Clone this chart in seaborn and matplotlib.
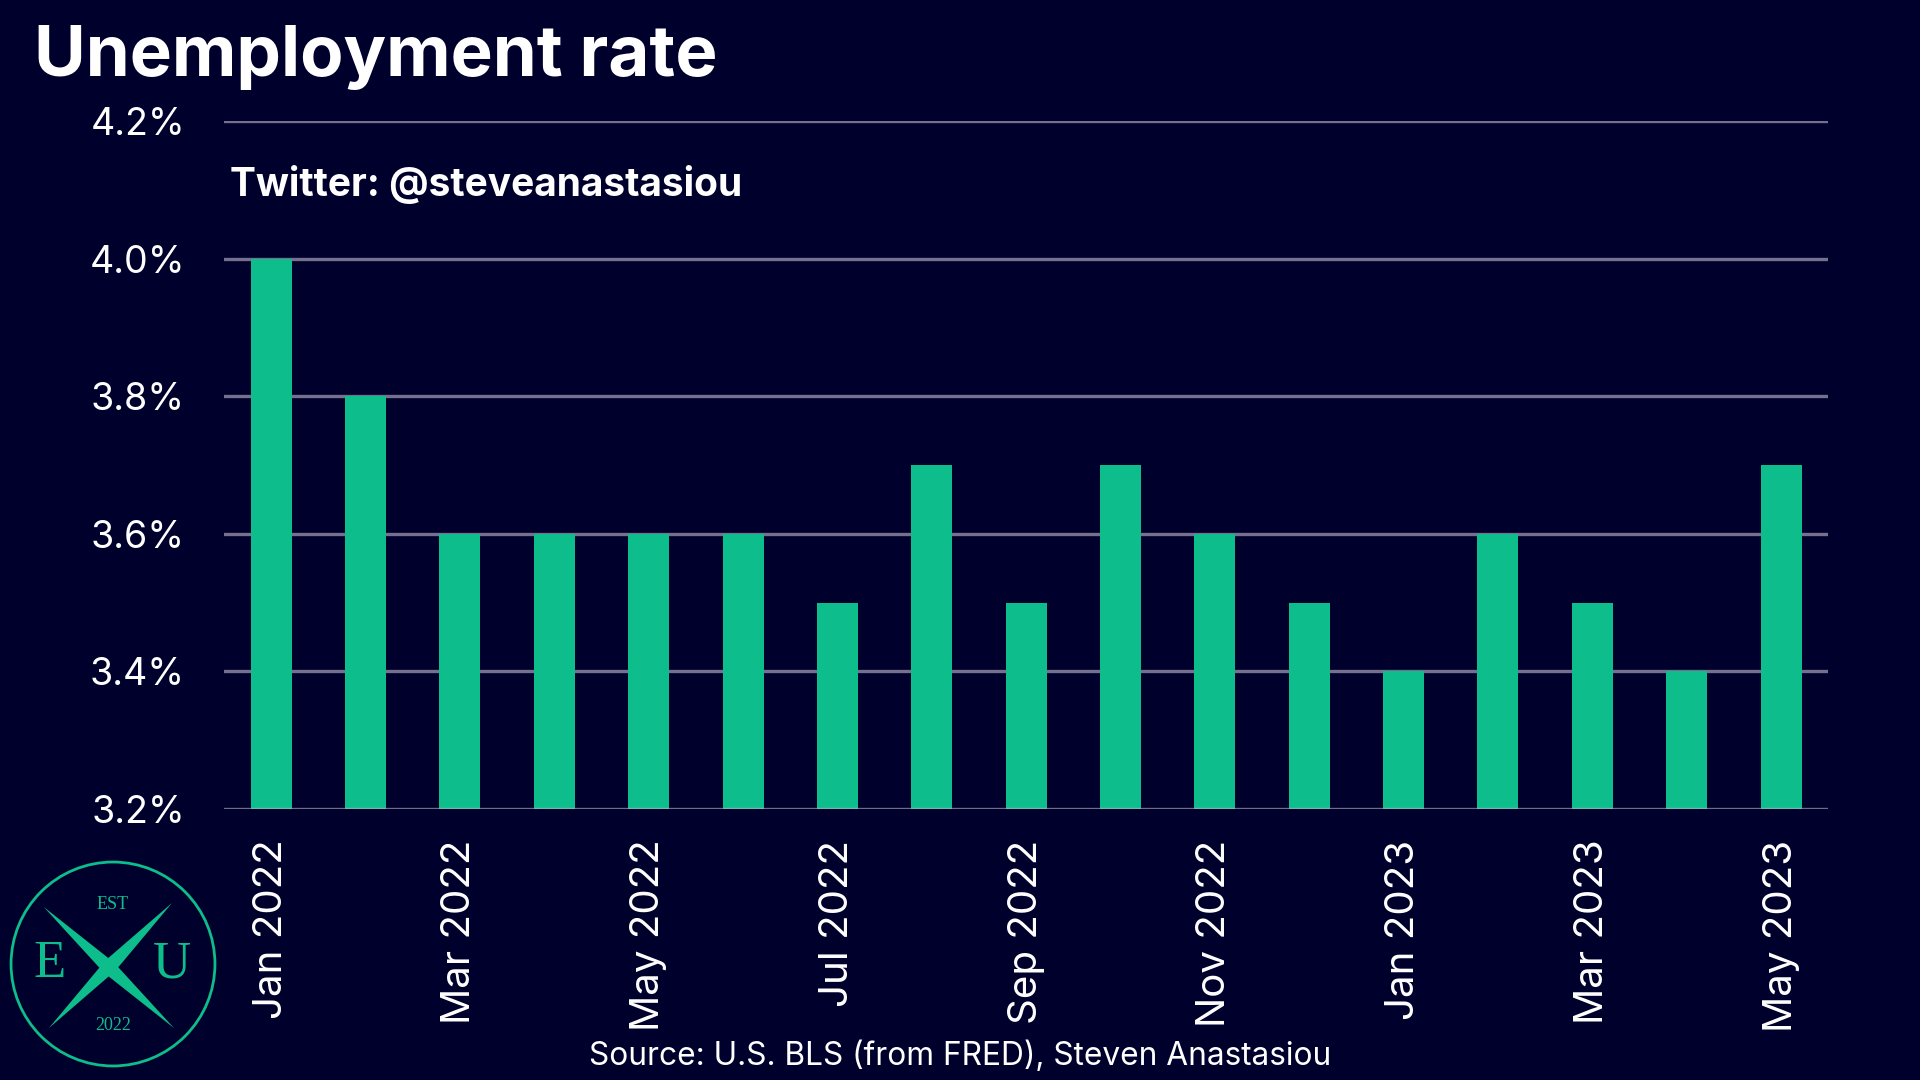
import pandas as pd
import matplotlib.pyplot as plt
import seaborn as sns
import numpy as np
from matplotlib.patches import Circle, Polygon

# data
months = ['Jan 2022', 'Feb 2022', 'Mar 2022', 'Apr 2022', 'May 2022', 'Jun 2022',
          'Jul 2022', 'Aug 2022', 'Sep 2022', 'Oct 2022', 'Nov 2022', 'Dec 2022',
          'Jan 2023', 'Feb 2023', 'Mar 2023', 'Apr 2023', 'May 2023']
rate = [4.0, 3.8, 3.6, 3.6, 3.6, 3.6, 3.5, 3.7, 3.5, 3.7, 3.6, 3.5, 3.4, 3.6, 3.5, 3.4, 3.7]
y_ticks = [3.2, 3.4, 3.6, 3.8, 4.0, 4.2]

bg = '#00002c'
green = '#0dbd8b'
grid_col = '#76708e'

df = pd.DataFrame({'Month': months, 'Rate': rate})

sns.set_style('dark')
plt.rcParams['font.family'] = ['Inter', 'DejaVu Sans']

fig = plt.figure(figsize=(19.2, 10.8), dpi=100, facecolor=bg)
ax = fig.add_axes([0.1167, 0.2509, 0.8355, 0.637])
ax.set_facecolor(bg)

sns.barplot(data=df, x='Month', y='Rate', color=green, width=0.435, saturation=1,
            edgecolor='none', linewidth=0, ax=ax, zorder=2)

ax.set_ylim(3.2, 4.2)
ax.set_xlim(-0.5, len(months) - 0.5)
ax.set_yticks(y_ticks)
ax.set_yticklabels([f'{v:.1f}%' for v in y_ticks], color='white', fontsize=27)
ax.set_xticks(range(0, len(months), 2))
ax.set_xticklabels(months[::2], rotation=90, color='white', fontsize=29)
ax.tick_params(axis='y', length=0, pad=28)
ax.tick_params(axis='x', length=0, pad=22)
ax.set_xlabel('')
ax.set_ylabel('')
for s in ax.spines.values():
    s.set_visible(False)
for v in y_ticks[1:]:
    ax.axhline(v, color=grid_col, lw=2.4, zorder=1)
ax.axhline(y_ticks[0], color='#b8b4cc', alpha=0.6, lw=2.4, zorder=3)
ax.grid(False)

# texts
fig.text(0.0177, 1 - 76 / 1080, 'Unemployment rate', color='white', fontsize=51,
         fontweight='bold', va='baseline', ha='left')
ax.text(0.004, 0.908, 'Twitter: @steveanastasiou', transform=ax.transAxes, color='white',
        fontsize=28, fontweight='bold', va='center', ha='left')
fig.text(0.5, 1 - 1056 / 1080, 'Source: U.S. BLS (from FRED), Steven Anastasiou', color='white',
         fontsize=22.8, ha='center', va='center')

# logo
lax = fig.add_axes([9 / 1920, 12 / 1080, 208 / 1920, 208 / 1080])
lax.set_xlim(-1.02, 1.02)
lax.set_ylim(-1.02, 1.02)
lax.set_aspect('equal')
lax.axis('off')
lax.add_patch(Circle((0, 0), 1.0, fill=False, ec=green, lw=2))


def lens(p0, p1, w):
    p0 = np.array(p0)
    p1 = np.array(p1)
    d = p1 - p0
    n = np.array([-d[1], d[0]]) / np.hypot(*d)
    m = (p0 + p1) / 2
    return Polygon([p0, m + n * w, p1, m - n * w], closed=True, fc=green, ec='none')


lax.add_patch(lens((-0.68, 0.56), (0.6, -0.63), 0.07))
lax.add_patch(lens((0.58, 0.6), (-0.63, -0.63), 0.07))
serif = ['Liberation Serif', 'DejaVu Serif']
lax.text(-0.62, 0.0, 'E', color=green, fontsize=38, family=serif, ha='center', va='center')
lax.text(0.58, 0.0, 'U', color=green, fontsize=38, family=serif, ha='center', va='center')
lax.text(0.0, 0.58, 'EST', color=green, fontsize=13, family=serif, ha='center', va='center')
lax.text(0.0, -0.6, '2022', color=green, fontsize=13, family=serif, ha='center', va='center')

fig.savefig('out.png', dpi=100, facecolor=bg)
